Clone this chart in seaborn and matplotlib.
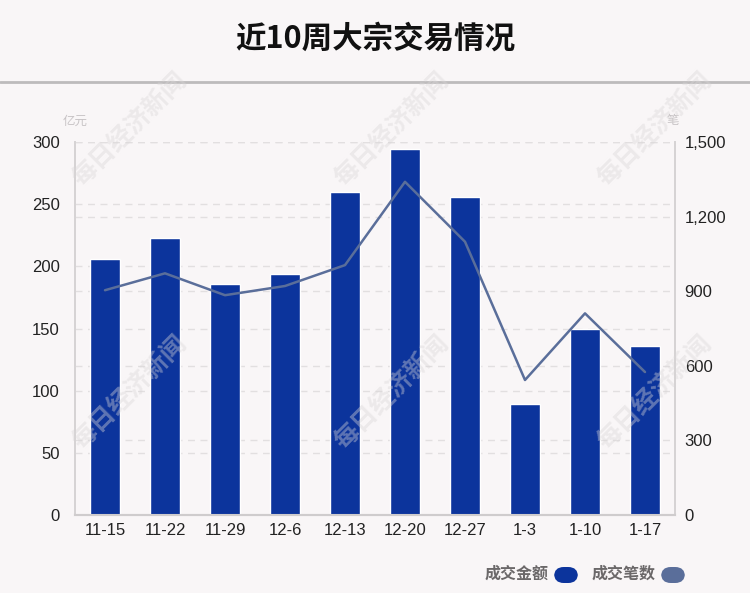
import numpy as np
import pandas as pd
import matplotlib
matplotlib.use("Agg")
import matplotlib.pyplot as plt
import seaborn as sns
from matplotlib.patches import FancyBboxPatch
from matplotlib.ticker import FuncFormatter

weeks = ["11-15", "11-22", "11-29", "12-6", "12-13", "12-20", "12-27", "1-3", "1-10", "1-17"]
amount = [206, 223, 186, 194, 259.5, 294, 256, 89.5, 149.6, 135.7]  # 亿元
deals = [904, 972, 884, 921, 1005, 1340, 1099, 543, 811, 575]  # 笔

BG = "#f9f6f7"
BAR_COLOR = "#0c349c"
LINE_COLOR = "#5a6e9a"
GRID_COLOR = "#e2dfe0"
CJK = ["Noto Sans CJK SC", "DejaVu Sans"]

sns.set_theme(style="white")
plt.rcParams["font.family"] = ["Liberation Sans", "Noto Sans CJK SC", "DejaVu Sans"]

fig = plt.figure(figsize=(7.5, 5.93), dpi=100, facecolor=BG)
ax = fig.add_axes([0.1, 0.1315, 0.8, 0.629])
ax.set_facecolor(BG)

df = pd.DataFrame({"week": weeks, "amount": amount, "deals": deals})
sns.barplot(data=df, x="week", y="amount", color=BAR_COLOR, width=0.5,
            saturation=1, ax=ax, zorder=3)

ax.set_ylim(0, 300)
ax.set_yticks([0, 50, 100, 150, 200, 250, 300])
ax.set_xlim(-0.5, len(weeks) - 0.5)
ax.set_xlabel("")
ax.set_ylabel("")

ax2 = ax.twinx()
sns.lineplot(x=np.arange(len(weeks)), y=df["deals"], color=LINE_COLOR,
             linewidth=1.8, ax=ax2, zorder=4)
ax2.set_ylim(0, 1500)
ax2.set_yticks([0, 300, 600, 900, 1200, 1500])
ax2.yaxis.set_major_formatter(FuncFormatter(lambda v, p: f"{int(v):,}"))
ax2.set_ylabel("")

# gridlines for both axes
for t in ax.get_yticks()[1:]:
    ax.axhline(t, color=GRID_COLOR, linestyle=(0, (5, 4)), linewidth=1, zorder=1)
for t in ax2.get_yticks()[1:]:
    ax.axhline(t * 300 / 1500, color=GRID_COLOR, linestyle=(0, (5, 4)), linewidth=1, zorder=1)

for a in (ax, ax2):
    a.spines["top"].set_visible(False)
    a.spines["left"].set_color("#d6d3d4")
    a.spines["right"].set_color("#d6d3d4")
    a.spines["bottom"].set_color("#cfcccd")
    a.spines["bottom"].set_linewidth(1.5)
    a.tick_params(length=0, labelsize=12, colors="#222222", pad=6)

ax.tick_params(axis="y", pad=11)
ax2.tick_params(axis="y", pad=7)

# units
fig.text(0.1, 0.796, "亿元", fontsize=9, color="#c8c4c6", ha="center", va="center", family=CJK)
fig.text(0.897, 0.796, "笔", fontsize=9, color="#c8c4c6", ha="center", va="center", family=CJK)

# title and divider
fig.text(0.5, 0.935, "近10周大宗交易情况", fontsize=22, fontweight="bold",
         ha="center", va="center", color="#111111", family=CJK)
fig.add_artist(plt.Line2D([0, 1], [0.862, 0.862], color="#bdbbbc", linewidth=2,
                          transform=fig.transFigure))

# watermark
for wx in (130, 392, 655):
    for wy in (130, 393):
        fig.text(wx / 750, 1 - wy / 593, "每日经济新闻", fontsize=18, fontweight="bold",
                 rotation=45, color="#d9d6d7", alpha=0.4, ha="center", va="center",
                 family=CJK, zorder=10)

# legend
legend_items = [("成交金额", BAR_COLOR, 485), ("成交笔数", LINE_COLOR, 592)]
for label, col, x0 in legend_items:
    fig.text(x0 / 750, 1 - 574 / 593, label, fontsize=11.5, fontweight="bold",
             color="#6b6869", ha="left", va="center", family=CJK)
    patch = FancyBboxPatch(((x0 + 69) / 750, 1 - 583 / 593), 24 / 750, 16 / 593,
                           boxstyle="round,pad=0,rounding_size=0.013",
                           transform=fig.transFigure, facecolor=col, edgecolor="none",
                           mutation_aspect=750 / 593)
    fig.add_artist(patch)

fig.savefig("out.png", dpi=100, facecolor=BG)
